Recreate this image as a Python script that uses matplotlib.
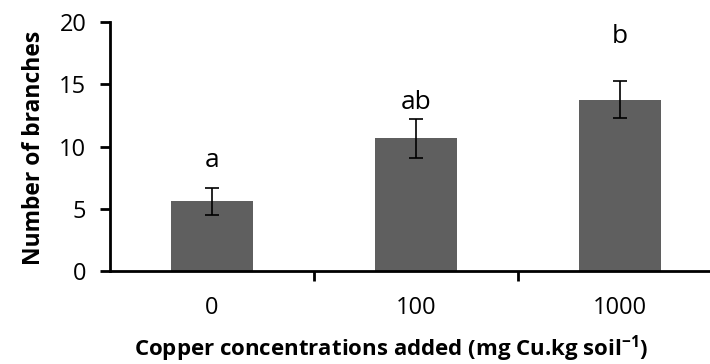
import matplotlib
matplotlib.use("Agg")
import matplotlib.pyplot as plt
import numpy as np

categories = ["0", "100", "1000"]
means = [5.6, 10.65, 13.75]
errors = [1.1, 1.55, 1.5]
letters = ["a", "ab", "b"]
letter_y = [8.9, 13.5, 18.8]
yticks = [0, 5, 10, 15, 20]

plt.rcParams['font.family'] = ['Open Sans', 'DejaVu Sans']
plt.rcParams['mathtext.fontset'] = 'custom'
plt.rcParams['mathtext.bf'] = 'Open Sans:bold'
plt.rcParams['mathtext.rm'] = 'Open Sans'

fig = plt.figure(figsize=(7.10, 3.64), dpi=100)
ax = fig.add_axes([110/710, (364-271)/364, 612/710, (271-22)/364])

x = np.arange(len(categories))
ax.bar(x, means, width=0.4, color="#5f5f5f", zorder=2)
ax.errorbar(x, means, yerr=errors, fmt="none", ecolor="#000000",
            elinewidth=1.2, capsize=5, capthick=1.2, zorder=3)
for xi, lab, ly in zip(x, letters, letter_y):
    ax.text(xi, ly, lab, ha="center", va="center", fontsize=19)

ax.set_xlim(-0.5, 2.5)
ax.set_ylim(0, 20)
ax.set_yticks(yticks)
ax.set_xticks(x)
ax.set_xticklabels(categories)
ax.set_xticks([0.5, 1.5], minor=True)
ax.tick_params(axis="x", which="major", length=0, labelsize=17, pad=18)
ax.tick_params(axis="x", which="minor", length=7, width=2, direction="out")
ax.tick_params(axis="y", length=7, width=2, labelsize=17, pad=10)

for s in ["top", "right"]:
    ax.spines[s].set_visible(False)
for s in ["left", "bottom"]:
    ax.spines[s].set_linewidth(2)

ax.set_ylabel("Number of branches", fontsize=16.5, fontweight="bold")
ax.yaxis.set_label_coords((34-110)/612, (271-148)/249)
ax.set_xlabel("Copper concentrations added (mg Cu.kg soil$^{\\mathbf{-1}}$)",
              fontsize=16, fontweight="bold")
ax.xaxis.set_label_coords((391-110)/612, -(349-271)/249)
ax.xaxis.label.set_va("center")
ax.yaxis.label.set_va("center")

fig.savefig("out.png", dpi=100)
